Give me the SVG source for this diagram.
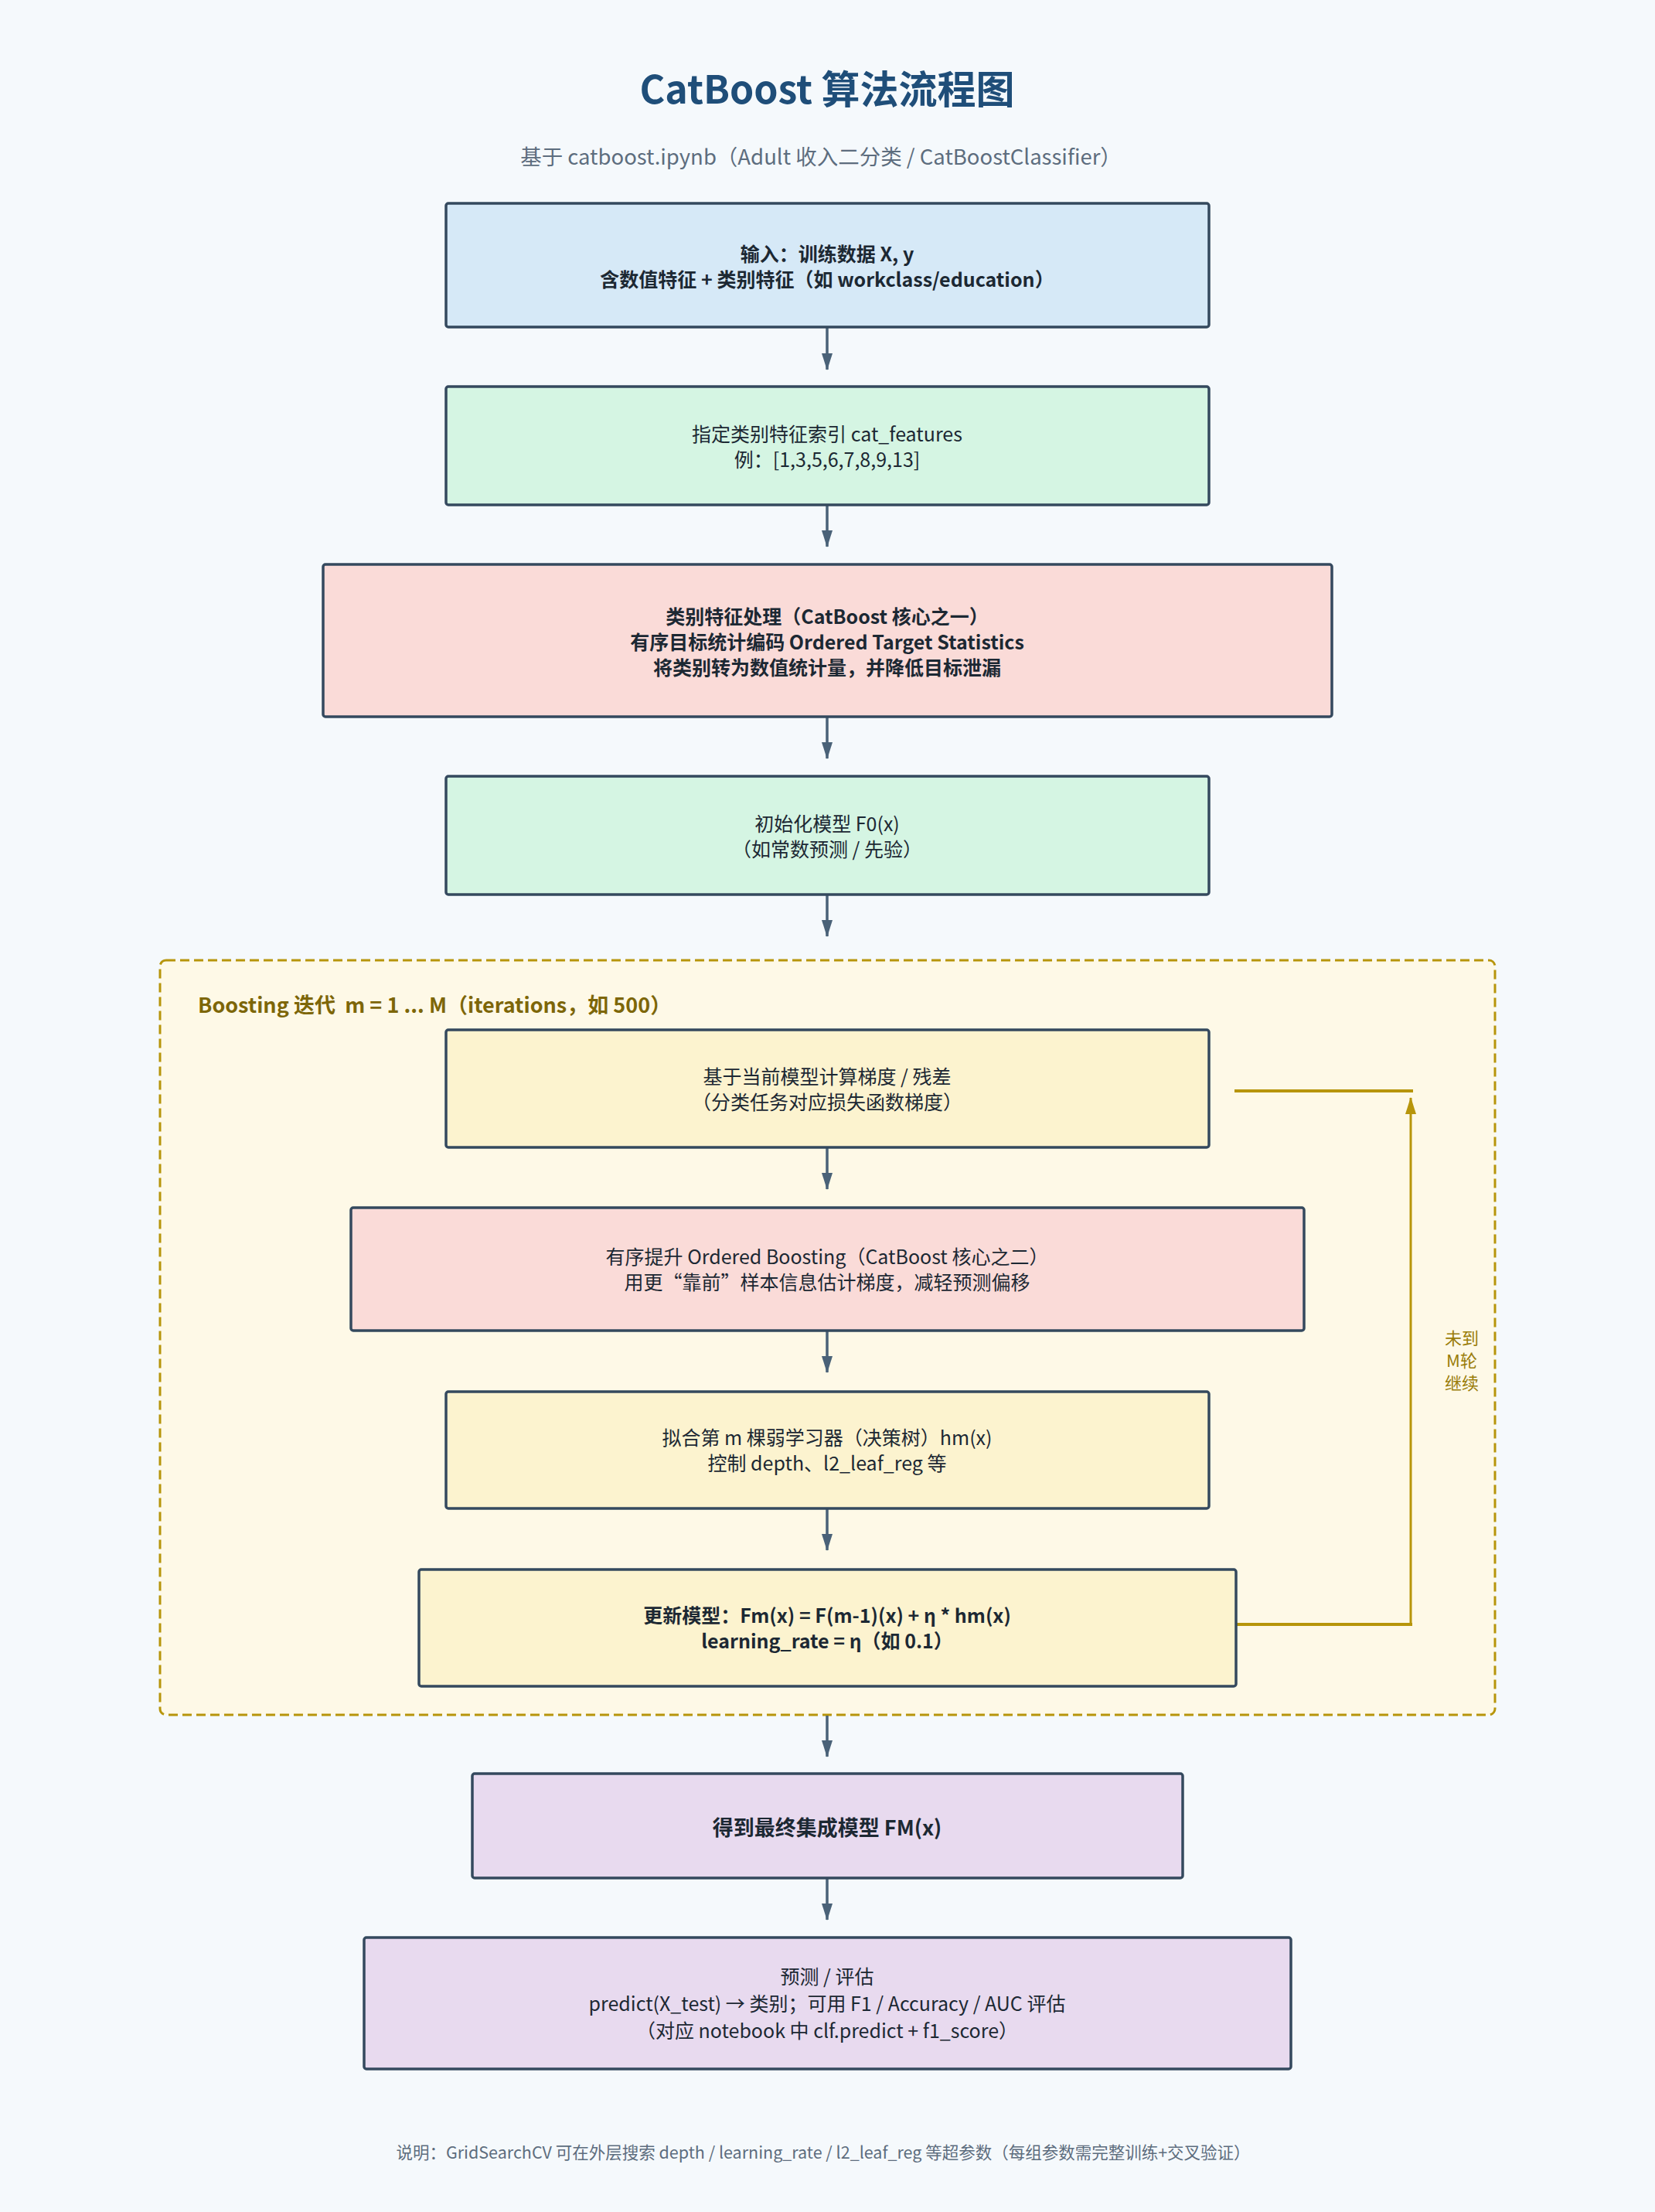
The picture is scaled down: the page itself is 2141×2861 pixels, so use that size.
<svg xmlns="http://www.w3.org/2000/svg" width="2141" height="2861" viewBox="0 0 2141 2861">
<defs>
<style>
.t{font-family:"Noto Sans CJK SC","Noto Sans",sans-serif;text-anchor:middle;dominant-baseline:central;fill:#1c2833;font-size:25px}
.b{font-weight:bold}
.box{stroke:#34495e;stroke-width:3.5}
.blue{fill:#d6e9f7}.green{fill:#d5f5e3}.pink{fill:#fadbd8}.yellow{fill:#fcf3cf}.purple{fill:#e8daef}
.arr{stroke:#4a6278;stroke-width:3.5;fill:none;marker-end:url(#ah)}
.loop{stroke:#b7950b;fill:none}
</style>
<marker id="ah" viewBox="0 0 22 16" refX="21" refY="8" markerWidth="22" markerHeight="16" markerUnits="userSpaceOnUse" orient="auto">
<path d="M0,1 L22,8 L0,15 z" fill="#4a6278"/>
</marker>
<marker id="ahy" viewBox="0 0 22 16" refX="21" refY="8" markerWidth="22" markerHeight="16" markerUnits="userSpaceOnUse" orient="auto">
<path d="M0,1 L22,8 L0,15 z" fill="#b7950b"/>
</marker>
</defs>
<rect width="2141" height="2861" fill="#f5f9fc"/>
<text class="t b" x="1070" y="112" style="font-size:50px;fill:#1f4e79">CatBoost 算法流程图</text>
<text class="t" x="1062" y="201" style="font-size:27.5px;fill:#5d6d7e">基于 catboost.ipynb（Adult 收入二分类 / CatBoostClassifier）</text>

<g id="loop-cluster">
<rect x="207" y="1242" width="1727" height="976" rx="8" fill="#fef9e7" stroke="#b7950b" stroke-width="3" stroke-dasharray="12,6"/>
<text class="t b" x="256" y="1298" xml:space="preserve" style="text-anchor:start;font-size:27px;fill:#7d6608">Boosting 迭代  m = 1 ... M（iterations，如 500）</text>
</g>

<g id="connectors">
<line class="arr" x1="1070" y1="424" x2="1070" y2="478"/>
<line class="arr" x1="1070" y1="653" x2="1070" y2="707"/>
<line class="arr" x1="1070" y1="927" x2="1070" y2="981"/>
<line class="arr" x1="1070" y1="1157" x2="1070" y2="1211"/>
<line class="arr" x1="1070" y1="1484" x2="1070" y2="1538"/>
<line class="arr" x1="1070" y1="1721" x2="1070" y2="1775"/>
<line class="arr" x1="1070" y1="1951" x2="1070" y2="2005"/>
<line class="arr" x1="1070" y1="2219" x2="1070" y2="2272"/>
<line class="arr" x1="1070" y1="2429" x2="1070" y2="2483"/>
<g id="loop-back">
<line class="loop" x1="1599" y1="2101" x2="1827" y2="2101" stroke-width="4"/>
<line class="loop" x1="1825" y1="2101" x2="1825" y2="1420" stroke-width="3" marker-end="url(#ahy)"/>
<line class="loop" x1="1597" y1="1411" x2="1828" y2="1411" stroke-width="4"/>
<text class="t" x="1891" y="1729" style="font-size:22px;fill:#9a7d0a">未到</text>
<text class="t" x="1891" y="1758" style="font-size:22px;fill:#9a7d0a">M轮</text>
<text class="t" x="1891" y="1787" style="font-size:22px;fill:#9a7d0a">继续</text>
</g>
</g>

<g id="n1">
<rect class="box blue" x="577" y="263" width="987" height="160" rx="3"/>
<text class="t b" x="1070" y="327">输入：训练数据 X, y</text>
<text class="t b" x="1070" y="360">含数值特征 + 类别特征（如 workclass/education）</text>
</g>
<g id="n2">
<rect class="box green" x="577" y="500" width="987" height="153" rx="3"/>
<text class="t" x="1070" y="560">指定类别特征索引 cat_features</text>
<text class="t" x="1070" y="593">例：[1,3,5,6,7,8,9,13]</text>
</g>
<g id="n3">
<rect class="box pink" x="418" y="730" width="1305" height="197" rx="3"/>
<text class="t b" x="1070" y="796">类别特征处理（CatBoost 核心之一）</text>
<text class="t b" x="1070" y="829">有序目标统计编码 Ordered Target Statistics</text>
<text class="t b" x="1070" y="862">将类别转为数值统计量，并降低目标泄漏</text>
</g>
<g id="n4">
<rect class="box green" x="577" y="1004" width="987" height="153" rx="3"/>
<text class="t" x="1070" y="1064">初始化模型 F0(x)</text>
<text class="t" x="1070" y="1097">（如常数预测 / 先验）</text>
</g>
<g id="n5">
<rect class="box yellow" x="577" y="1332" width="987" height="152" rx="3"/>
<text class="t" x="1070" y="1391">基于当前模型计算梯度 / 残差</text>
<text class="t" x="1070" y="1424">（分类任务对应损失函数梯度）</text>
</g>
<g id="n6">
<rect class="box pink" x="454" y="1562" width="1233" height="159" rx="3"/>
<text class="t" x="1070" y="1624">有序提升 Ordered Boosting（CatBoost 核心之二）</text>
<text class="t" x="1070" y="1657">用更“靠前”样本信息估计梯度，减轻预测偏移</text>
</g>
<g id="n7">
<rect class="box yellow" x="577" y="1800" width="987" height="151" rx="3"/>
<text class="t" x="1070" y="1858">拟合第 m 棵弱学习器（决策树）hm(x)</text>
<text class="t" x="1070" y="1891">控制 depth、l2_leaf_reg 等</text>
</g>
<g id="n8">
<rect class="box yellow" x="542" y="2030" width="1057" height="151" rx="3"/>
<text class="t b" x="1070" y="2088">更新模型：Fm(x) = F(m-1)(x) + η * hm(x)</text>
<text class="t b" x="1070" y="2121">learning_rate = η（如 0.1）</text>
</g>
<g id="n9">
<rect class="box purple" x="611" y="2294" width="919" height="135" rx="3"/>
<text class="t b" x="1070" y="2362" style="font-size:27px">得到最终集成模型 FM(x)</text>
</g>
<g id="n10">
<rect class="box purple" x="471" y="2506" width="1199" height="170" rx="3"/>
<text class="t" x="1070" y="2555">预测 / 评估</text>
<text class="t" x="1070" y="2590">predict(X_test) → 类别；可用 F1 / Accuracy / AUC 评估</text>
<text class="t" x="1070" y="2625">（对应 notebook 中 clf.predict + f1_score）</text>
</g>
<text class="t" x="1065" y="2782" style="font-size:21.5px;fill:#5d6d7e">说明：GridSearchCV 可在外层搜索 depth / learning_rate / l2_leaf_reg 等超参数（每组参数需完整训练+交叉验证）</text>
</svg>
